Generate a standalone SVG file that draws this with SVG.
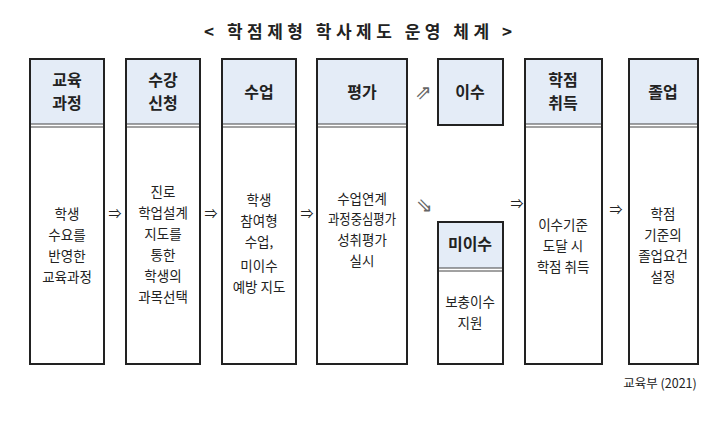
<svg xmlns="http://www.w3.org/2000/svg" width="721" height="423" viewBox="0 0 721 423">
<style>
text{font-family:"Noto Sans CJK KR","Noto Sans",sans-serif;text-anchor:middle;fill:#222}
.h{font-size:16px;font-weight:bold}
.b{font-size:13.5px}
.box{fill:#fff;stroke:#222;stroke-width:2}
.hd{fill:#e4ecf7}
.sep{stroke:#444;stroke-width:1;fill:none}
.ar{font-size:13px}
.dg{font-size:20px;fill:#666}
</style>
<rect width="721" height="423" fill="#fff"/>
<text x="358" y="38" style="font-size:17px;font-weight:bold" textLength="308">&lt; 학점제형 학사제도 운영 체계 &gt;</text>
<g id="n1"><rect class="box" x="30" y="59" width="74" height="305"/><rect class="hd" x="31" y="60" width="72" height="64"/><path class="sep" d="M31 124H103M31 127H103"/>
<text class="h" x="67" y="86">교육</text><text class="h" x="67" y="109">과정</text>
<text class="b" x="67" y="219">학생</text><text class="b" x="67" y="240">수요를</text><text class="b" x="67" y="261">반영한</text><text class="b" x="67" y="282">교육과정</text></g>
<g id="n2"><rect class="box" x="126" y="59" width="74" height="305"/><rect class="hd" x="127" y="60" width="72" height="64"/><path class="sep" d="M127 124H199M127 127H199"/>
<text class="h" x="163" y="86">수강</text><text class="h" x="163" y="109">신청</text>
<text class="b" x="163" y="197">진로</text><text class="b" x="163" y="218">학업설계</text><text class="b" x="163" y="239">지도를</text><text class="b" x="163" y="260">통한</text><text class="b" x="163" y="281">학생의</text><text class="b" x="163" y="302">과목선택</text></g>
<g id="n3"><rect class="box" x="222" y="59" width="74" height="305"/><rect class="hd" x="223" y="60" width="72" height="64"/><path class="sep" d="M223 124H295M223 127H295"/>
<text class="h" x="259" y="98">수업</text>
<text class="b" x="259" y="205">학생</text><text class="b" x="259" y="226">참여형</text><text class="b" x="259" y="247">수업,</text><text class="b" x="259" y="271">미이수</text><text class="b" x="259" y="292">예방 지도</text></g>
<g id="n4"><rect class="box" x="317" y="59" width="90" height="305"/><rect class="hd" x="318" y="60" width="88" height="64"/><path class="sep" d="M318 124H406M318 127H406"/>
<text class="h" x="362" y="98">평가</text>
<text class="b" x="362" y="204">수업연계</text><text class="b" x="362" y="224" textLength="68" lengthAdjust="spacingAndGlyphs">과정중심평가</text><text class="b" x="362" y="245">성취평가</text><text class="b" x="362" y="266">실시</text></g>
<g id="n5"><rect class="box" x="438" y="59" width="65" height="66" style="fill:#e4ecf7"/><text class="h" x="470" y="98">이수</text></g>
<g id="n6"><rect class="box" x="438" y="222" width="65" height="142"/><rect class="hd" x="439" y="223" width="63" height="45"/><path class="sep" d="M439 268H502M439 271H502"/>
<text class="h" x="470" y="250">미이수</text>
<text class="b" x="470" y="307">보충이수</text><text class="b" x="470" y="328">지원</text></g>
<g id="n7"><rect class="box" x="525" y="59" width="77" height="305"/><rect class="hd" x="526" y="60" width="75" height="64"/><path class="sep" d="M526 124H601M526 127H601"/>
<text class="h" x="563" y="86">학점</text><text class="h" x="563" y="109">취득</text>
<text class="b" x="563" y="230">이수기준</text><text class="b" x="563" y="251">도달 시</text><text class="b" x="563" y="272">학점 취득</text></g>
<g id="n8"><rect class="box" x="629" y="59" width="69" height="305"/><rect class="hd" x="630" y="60" width="67" height="64"/><path class="sep" d="M630 124H697M630 127H697"/>
<text class="h" x="663" y="98">졸업</text>
<text class="b" x="663" y="219">학점</text><text class="b" x="663" y="240">기준의</text><text class="b" x="663" y="261">졸업요건</text><text class="b" x="663" y="282">설정</text></g>
<g id="connectors">
<text class="ar" x="115" y="218">⇒</text><text class="ar" x="211" y="218">⇒</text><text class="ar" x="307" y="218">⇒</text>
<text class="dg" x="423" y="99">⇗</text><text class="dg" x="424" y="212">⇘</text>
<text class="ar" x="517" y="208">⇒</text><text class="ar" x="616" y="214">⇒</text>
</g>
<text x="660" y="388" style="font-size:12.5px">교육부 (2021)</text>
</svg>
